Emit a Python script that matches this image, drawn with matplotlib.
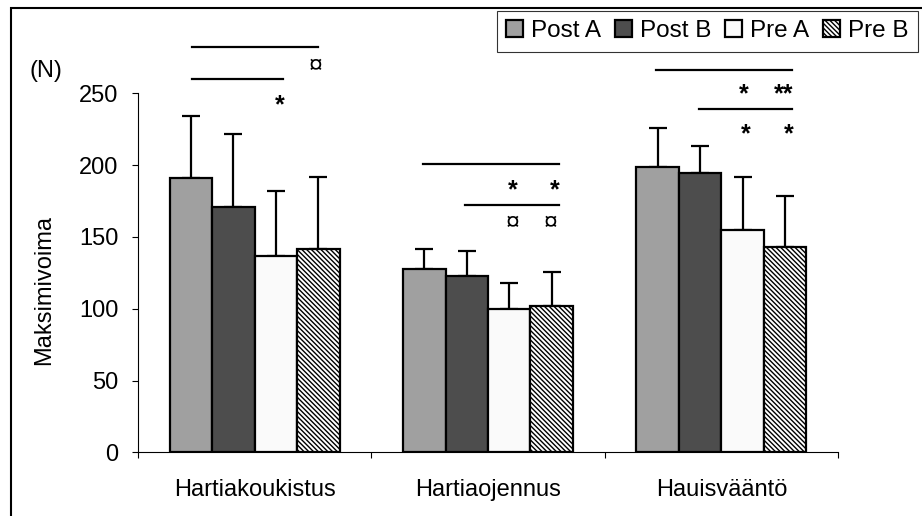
import matplotlib.pyplot as plt
from matplotlib.patches import Rectangle

plt.rcParams['font.family'] = ['Liberation Sans', 'DejaVu Sans']
plt.rcParams['hatch.linewidth'] = 1.0

# data
categories = ['Hartiakoukistus', 'Hartiaojennus', 'Hauisvääntö']
series = ['Post A', 'Post B', 'Pre A', 'Pre B']
values = [
    [191, 127.5, 199],   # Post A
    [170.5, 123, 194.5], # Post B
    [137, 100, 155],     # Pre A
    [141.5, 102, 143],   # Pre B
]
errors = [
    [43, 14, 27],
    [51, 17.5, 19],
    [45, 18, 36.5],
    [50, 23.5, 35.5],
]
colors = ['#a0a0a0', '#4d4d4d', '#fafafa', 'white']
hatches = [None, None, None, '\\\\\\\\\\\\\\']

# significance lines: (x start, x end, y) and symbols: (x, y, text)
sig_lines = [(-0.27, 0.273, 282), (-0.27, 0.123, 259.7),
             (0.72, 1.304, 200.8), (0.901, 1.304, 172.2),
             (1.72, 2.304, 266.2), (1.904, 2.304, 238.9)]
sig_marks = [(0.106, 236.5, '*'), (0.262, 264, '¤'),
             (1.106, 177.3, '*'), (1.287, 177.3, '*'),
             (1.106, 155, '¤'), (1.270, 155, '¤'),
             (2.094, 244.6, '*'), (2.266, 244.6, '**'),
             (2.106, 216.7, '*'), (2.287, 216.7, '*')]

fig = plt.figure(figsize=(9.22, 5.16), dpi=100)
ax = fig.add_axes([138/922, 1-452.3/516, 700/922, (452.3-93.3)/516])

width = 0.182
x = range(len(categories))
handles = []
for i, s in enumerate(series):
    pos = [c + (i - 1.5) * width for c in x]
    b = ax.bar(pos, values[i], width, color=colors[i], edgecolor='black',
               linewidth=1.6, hatch=hatches[i], label=s, zorder=2)
    ax.errorbar(pos, values[i], yerr=[[0]*len(pos), errors[i]], fmt='none',
                ecolor='black', elinewidth=1.6, capsize=6.5, capthick=1.6,
                zorder=1)
    handles.append(b)

for x0, x1, y in sig_lines:
    ax.plot([x0, x1], [y, y], color='black', lw=1.6, clip_on=False)
for xm, ym, t in sig_marks:
    ax.text(xm, ym, t, ha='center', va='baseline', fontsize=18,
            fontweight='bold' if '*' in t else 'normal', clip_on=False)

ax.set_xlim(-0.5, 2.5)
ax.set_ylim(0, 250)
ax.set_yticks([0, 50, 100, 150, 200, 250])
ax.tick_params(axis='y', labelsize=17, length=4.3, pad=10, width=0.8)
ax.set_xticks([-0.5, 0.5, 1.5, 2.5])
ax.set_xticklabels([])
ax.tick_params(axis='x', length=4.3, width=0.8)
ax.set_xticks(list(x), minor=True)
ax.set_xticklabels(categories, minor=True, fontsize=17)
ax.tick_params(axis='x', which='minor', length=0, pad=19)
for side in ['top', 'right']:
    ax.spines[side].set_visible(False)
for side in ['left', 'bottom']:
    ax.spines[side].set_linewidth(0.8)

fig.text(44/922, 1-290/516, 'Maksimivoima', rotation=90, ha='center',
         va='center', fontsize=17)
fig.text(46/922, 1-71/516, '(N)', ha='center', va='center', fontsize=17)

leg = fig.legend(handles=handles, loc='upper right', ncol=4,
                 bbox_to_anchor=(918/922, 1-10.5/516), fontsize=17.5,
                 frameon=True, fancybox=False, edgecolor='black',
                 handlelength=0.7, handleheight=0.7, handletextpad=0.3,
                 columnspacing=0.6, borderpad=0.4, borderaxespad=0)
leg.get_frame().set_linewidth(0.8)

# outer chart frame
fig.patches.append(Rectangle((11/922, -0.1), 1.2, 1.1 - 8/516, fill=False,
                             lw=1.5, edgecolor='black',
                             transform=fig.transFigure, figure=fig))

fig.savefig('out.png', dpi=100)
